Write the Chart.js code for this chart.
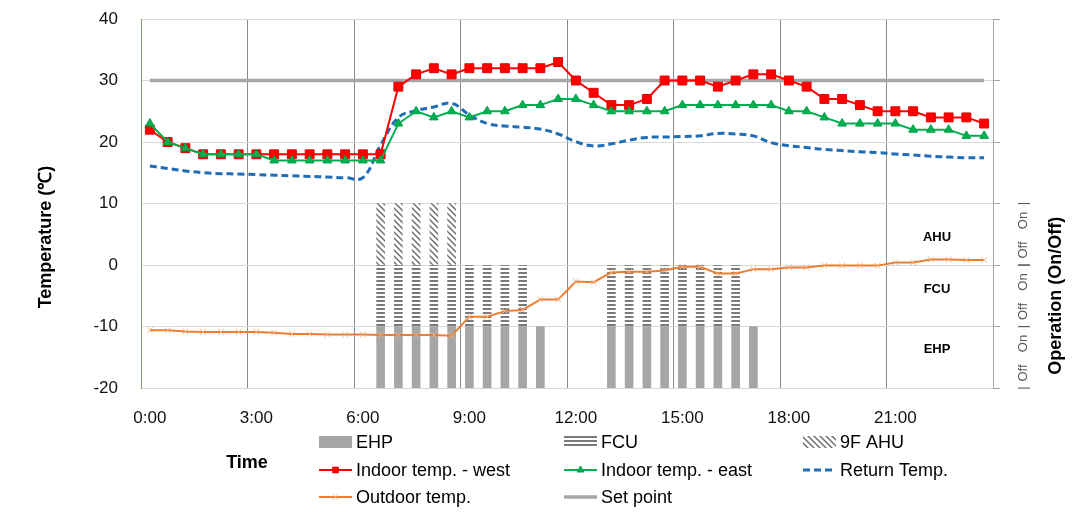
<!DOCTYPE html>
<html>
<head>
<meta charset="utf-8">
<script src="https://cdn.jsdelivr.net/npm/chart.js@4.4.0/dist/chart.umd.min.js"></script>
<style>
  html, body { margin: 0; padding: 0; background: #fff; }
  #wrap { width: 1082px; height: 521px; }
</style>
</head>
<body>
<div id="wrap"><canvas id="chart" width="1082" height="521"></canvas></div>
<script>
// Data: one value per half hour, 0:00 .. 23:30
const tickLabels = ["0:00", "3:00", "6:00", "9:00", "12:00", "15:00", "18:00", "21:00"];

const indoorWest = [22, 20, 19, 18, 18, 18, 18, 18, 18, 18, 18, 18, 18, 18, 29, 31, 32, 31, 32, 32, 32, 32, 32, 33,
                    30, 28, 26, 26, 27, 30, 30, 30, 29, 30, 31, 31, 30, 29, 27, 27, 26, 25, 25, 25, 24, 24, 24, 23];
const indoorEast = [23, 20, 19, 18, 18, 18, 18, 17, 17, 17, 17, 17, 17, 17, 23, 25, 24, 25, 24, 25, 25, 26, 26, 27,
                    27, 26, 25, 25, 25, 25, 26, 26, 26, 26, 26, 26, 25, 25, 24, 23, 23, 23, 23, 22, 22, 22, 21, 21];
const returnTemp = [16.1, 15.7, 15.3, 15.0, 14.85, 14.8, 14.7, 14.6, 14.5, 14.4, 14.3, 14.2, 14.2, 19.5, 24.0, 25.1,
                    25.7, 26.3, 24.4, 23.0, 22.6, 22.4, 22.1, 21.3, 20.05, 19.35, 19.7, 20.3, 20.75, 20.8, 20.9, 21.0,
                    21.4, 21.3, 21.0, 19.9, 19.4, 19.1, 18.8, 18.6, 18.4, 18.3, 18.05, 17.9, 17.7, 17.55, 17.45, 17.45];
const outdoorTemp = [-10.6, -10.6, -10.8, -10.9, -10.9, -10.9, -10.9, -11.0, -11.2, -11.2, -11.3, -11.3, -11.3,
                     -11.4, -11.4, -11.4, -11.4, -11.5, -8.4, -8.4, -7.5, -7.3, -5.6, -5.6, -2.7, -2.8, -1.2, -1.1,
                     -1.1, -0.9, -0.3, -0.3, -1.4, -1.4, -0.7, -0.7, -0.4, -0.4, -0.1, -0.1, -0.1, -0.1, 0.4, 0.4,
                     0.9, 0.9, 0.8, 0.8];
const setPoint = [30, 30, 30, 30, 30, 30, 30, 30, 30, 30, 30, 30, 30, 30, 30, 30, 30, 30, 30, 30, 30, 30, 30, 30,
                  30, 30, 30, 30, 30, 30, 30, 30, 30, 30, 30, 30, 30, 30, 30, 30, 30, 30, 30, 30, 30, 30, 30, 30];

// Operation status (1 = On)
const ehpOn = [0, 0, 0, 0, 0, 0, 0, 0, 0, 0, 0, 0, 0, 1, 1, 1, 1, 1, 1, 1, 1, 1, 1, 0,
               0, 0, 1, 1, 1, 1, 1, 1, 1, 1, 1, 0, 0, 0, 0, 0, 0, 0, 0, 0, 0, 0, 0, 0];
const fcuOn = [0, 0, 0, 0, 0, 0, 0, 0, 0, 0, 0, 0, 0, 1, 1, 1, 1, 1, 1, 1, 1, 1, 0, 0,
               0, 0, 1, 1, 1, 1, 1, 1, 1, 1, 0, 0, 0, 0, 0, 0, 0, 0, 0, 0, 0, 0, 0, 0];
const ahuOn = [0, 0, 0, 0, 0, 0, 0, 0, 0, 0, 0, 0, 0, 1, 1, 1, 1, 1, 0, 0, 0, 0, 0, 0,
               0, 0, 0, 0, 0, 0, 0, 0, 0, 0, 0, 0, 0, 0, 0, 0, 0, 0, 0, 0, 0, 0, 0, 0];

const FONT = "'Liberation Sans', Arial, sans-serif";
Chart.defaults.font.family = FONT;

// each operation signal sits in its own band of the left axis
const bands = { ehp: [-20, -10], fcu: [-10, 0], ahu: [0, 10] };

const pts = arr => arr.map((v, i) => ({ x: i + 0.5, y: v }));
const bars = (onArr, band) => onArr.map((on, i) => on ? { x: i + 0.5, y: band } : null).filter(Boolean);

function stripePattern() {
    const c = document.createElement("canvas");
    c.width = 8; c.height = 4;
    const g = c.getContext("2d");
    g.fillStyle = "#fff"; g.fillRect(0, 0, 8, 4);
    g.fillStyle = "#7a7a7a"; g.fillRect(0, 0, 8, 2);
    return g.createPattern(c, "repeat");
}
function hatchPattern() {
    const c = document.createElement("canvas");
    c.width = 6; c.height = 6;
    const g = c.getContext("2d");
    g.fillStyle = "#fff"; g.fillRect(0, 0, 6, 6);
    g.strokeStyle = "#6a6a6a"; g.lineWidth = 1.4;
    g.beginPath();
    g.moveTo(-3, 3); g.lineTo(3, 9);
    g.moveTo(0, 0); g.lineTo(6, 6);
    g.moveTo(3, -3); g.lineTo(9, 3);
    g.stroke();
    return g.createPattern(c, "repeat");
}

// legend, titles and right-hand operation labels
const extras = {
    id: "extras",
    afterDraw(chart) {
        const ctx = chart.ctx;
        const y = chart.scales.y;
        const area = chart.chartArea;
        ctx.save();

        // legend in three columns
        const colX = [319, 564, 803];
        const rowY = [442, 470, 497];
        chart.data.datasets.forEach((ds, k) => {
            const x0 = colX[k % 3], cy = rowY[Math.floor(k / 3)];
            ctx.save();
            if (ds.type === "line") {
                ctx.strokeStyle = ds.borderColor;
                ctx.lineWidth = ds.borderWidth;
                ctx.setLineDash(ds.borderDash || []);
                ctx.beginPath(); ctx.moveTo(x0, cy); ctx.lineTo(x0 + 33, cy); ctx.stroke();
                ctx.setLineDash([]);
                if (ds.pointRadius > 0) {
                    ctx.fillStyle = ds.pointBackgroundColor;
                    ctx.strokeStyle = ds.pointBorderColor;
                    ctx.lineWidth = 1;
                    Chart.helpers.drawPoint(ctx, { pointStyle: ds.pointStyle, rotation: 0, radius: 4, borderWidth: 1 }, x0 + 16.5, cy);
                }
            } else {
                ctx.fillStyle = ds.backgroundColor;
                ctx.fillRect(x0, cy - 6, 33, 12);
            }
            ctx.restore();
            ctx.fillStyle = "#000";
            ctx.font = "18px " + FONT;
            ctx.textAlign = "left";
            ctx.textBaseline = "middle";
            ctx.fillText(ds.label, x0 + 37, cy + 1);
        });

        // x axis title
        ctx.font = "bold 18px " + FONT;
        ctx.textAlign = "center";
        ctx.textBaseline = "middle";
        ctx.fillStyle = "#000";
        ctx.fillText("Time", 247, 463);

        // left axis title
        ctx.save();
        ctx.translate(46, 237);
        ctx.rotate(-Math.PI / 2);
        ctx.fillText("Temperature (\u2103)", 0, 0);
        ctx.restore();

        // right axis title
        ctx.save();
        ctx.translate(area.right + 63, y.getPixelForValue(-5));
        ctx.rotate(-Math.PI / 2);
        ctx.fillText("Operation (On/Off)", 0, 0);
        ctx.restore();

        // band names inside plot
        ctx.font = "bold 13px " + FONT;
        ctx.fillText("AHU", area.right - 56, y.getPixelForValue(4.5));
        ctx.fillText("FCU", area.right - 56, y.getPixelForValue(-3.9));
        ctx.fillText("EHP", area.right - 56, y.getPixelForValue(-13.8));

        // Off / On labels along right axis
        ctx.font = "13px " + FONT;
        ctx.fillStyle = "#595959";
        Object.values(bands).forEach(([lo, hi]) => {
            const yl = y.getPixelForValue(lo), yh = y.getPixelForValue(hi);
            const parts = [["|", yl], ["Off", yl - 15], ["On", yh + 17], ["|", yh]];
            parts.forEach(([t, py]) => {
                ctx.save();
                ctx.translate(area.right + 30, py);
                ctx.rotate(-Math.PI / 2);
                ctx.fillText(t, 0, 0);
                ctx.restore();
            });
        });
        ctx.restore();
    }
};

// vertical grid every 3 hours (6 half-hour steps), skipping both plot edges
const gridColor = c => {
    const v = c.tick ? c.tick.value : 0;
    return (v > 0 && v < 48) ? "#8c8c8c" : "rgba(0,0,0,0)";
};

const ctx = document.getElementById("chart").getContext("2d");
new Chart(ctx, {
    type: "bar",
    data: {
        datasets: [
            { label: "EHP", data: bars(ehpOn, bands.ehp), backgroundColor: "#a6a6a6", barThickness: 8, grouped: false, order: 10 },
            { label: "FCU", data: bars(fcuOn, bands.fcu), backgroundColor: stripePattern(), barThickness: 8, grouped: false, order: 10 },
            { label: "9F AHU", data: bars(ahuOn, bands.ahu), backgroundColor: hatchPattern(), barThickness: 8, grouped: false, order: 10 },
            {
                type: "line", label: "Indoor temp. - west", data: pts(indoorWest),
                borderColor: "#ff0000", borderWidth: 2, pointStyle: "rect", pointRadius: 6.3,
                pointBackgroundColor: "#ff0000", pointBorderColor: "#e00000", pointBorderWidth: 1, order: 1
            },
            {
                type: "line", label: "Indoor temp. - east", data: pts(indoorEast),
                borderColor: "#00b050", borderWidth: 2, pointStyle: "triangle", pointRadius: 5,
                pointBackgroundColor: "#00b050", pointBorderColor: "#00a048", pointBorderWidth: 1, order: 0
            },
            {
                type: "line", label: "Return Temp.", data: pts(returnTemp),
                borderColor: "#1f6eb5", borderWidth: 3, borderDash: [7, 4], tension: 0.4,
                pointRadius: 0, order: 2
            },
            {
                type: "line", label: "Outdoor temp.", data: pts(outdoorTemp),
                borderColor: "#ed7d31", borderWidth: 2, pointStyle: "crossRot", pointRadius: 4,
                pointBackgroundColor: "#f4b183", pointBorderColor: "#f4b183", pointBorderWidth: 1, order: 3
            },
            {
                type: "line", label: "Set point", data: pts(setPoint),
                borderColor: "#a6a6a6", borderWidth: 3.5, pointRadius: 0, order: 4
            }
        ]
    },
    options: {
        responsive: false,
        animation: false,
        layout: { padding: { top: 19, left: 0, right: 0, bottom: 0 } },
        plugins: { legend: { display: false }, tooltip: { enabled: false } },
        scales: {
            x: {
                type: "linear", position: "bottom", min: 0, max: 48, offset: false,
                grid: { display: false },
                border: { color: "#d9d9d9" },
                afterBuildTicks: s => { s.ticks = tickLabels.map((t, k) => ({ value: k * 6 + 0.5 })); },
                afterFit: s => { s.height = 133; },
                ticks: {
                    autoSkip: false, maxRotation: 0, padding: 12, color: "#111",
                    font: { size: 17 },
                    callback: (v, i) => tickLabels[i]
                }
            },
            xg: {
                type: "linear", position: "bottom", min: 0, max: 48, offset: false,
                ticks: { display: false, stepSize: 6 },
                border: { display: false },
                grid: { offset: false, drawTicks: false, color: gridColor },
                afterFit: s => { s.height = 0; }
            },
            y: {
                min: -20, max: 40,
                ticks: { stepSize: 10, padding: 8, color: "#111", font: { size: 17 } },
                grid: { color: "#d9d9d9", drawTicks: true, tickLength: 15, tickColor: "rgba(0,0,0,0)" },
                border: { color: "#7d9b6c" },
                afterFit: s => { s.width = 141; }
            },
            y2: {
                position: "right", min: -20, max: 40,
                ticks: { display: false, stepSize: 10 },
                grid: { drawOnChartArea: false, drawTicks: true, tickLength: 7, color: "#a6a6a6" },
                border: { color: "#a6a6a6" },
                afterFit: s => { s.width = 89; }
            }
        }
    },
    plugins: [extras]
});
</script>
</body>
</html>
